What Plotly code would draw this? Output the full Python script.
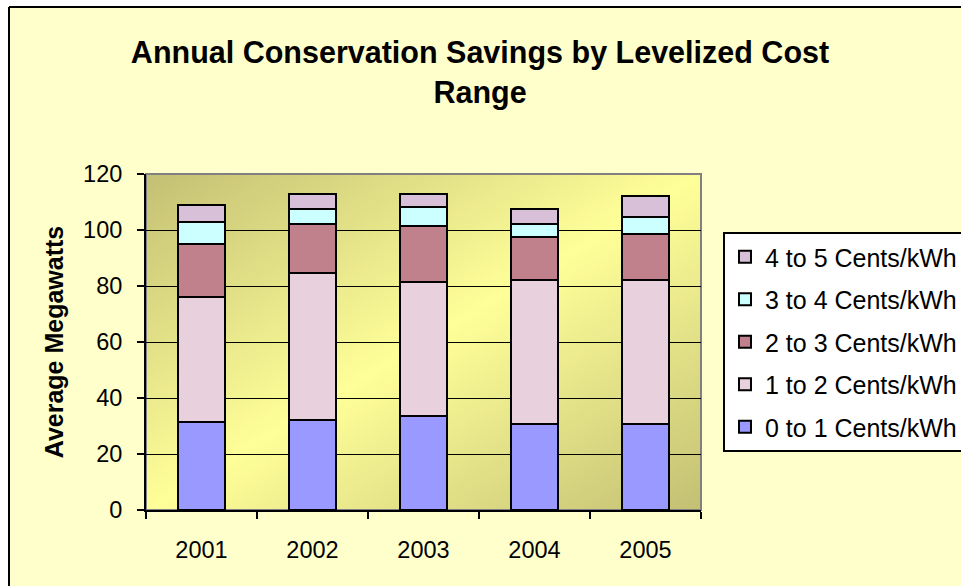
import base64, zlib, struct
import numpy as np
import plotly.graph_objects as go

years = ["2001", "2002", "2003", "2004", "2005"]
c0_1 = [31.6, 32.2, 33.7, 30.8, 30.8]
c1_2 = [44.3, 52.3, 47.8, 51.3, 51.3]
c2_3 = [19.2, 17.6, 20.0, 15.3, 16.6]
c3_4 = [7.7, 5.3, 6.6, 4.9, 5.8]
c4_5 = [6.0, 5.6, 4.9, 5.1, 7.8]
series_names = ["0 to 1 Cents/kWh", "1 to 2 Cents/kWh", "2 to 3 Cents/kWh",
                "3 to 4 Cents/kWh", "4 to 5 Cents/kWh"]
series_colors = ["#9999FF", "#E8D0DC", "#C0808C", "#CCFFFF", "#D8C0D8"]
series_values = [c0_1, c1_2, c2_3, c3_4, c4_5]

# figure geometry (pixels)
FW, FH = 961, 586
L, R, T, B = 146, 701, 174, 510


def xp(px):
    return (px - L) / (R - L)


def yp(py):
    return (B - py) / (B - T)


# diagonal gradient background for the plot area
def make_png(w, h):
    xs = np.linspace(0, 1, w)
    ys = np.linspace(0, 1, h)
    t = xs[None, :] + ys[:, None]
    d = np.clip(np.abs(t - 1.0), 0, 1)[:, :, None]
    bright = np.array([255, 255, 153], dtype=float)
    dark = np.array([196, 192, 116], dtype=float)
    img = (bright + (dark - bright) * d).round().astype(np.uint8)
    raw = b"".join(b"\x00" + img[r].tobytes() for r in range(h))

    def chunk(tag, data):
        return (struct.pack(">I", len(data)) + tag + data +
                struct.pack(">I", zlib.crc32(tag + data) & 0xffffffff))

    png = (b"\x89PNG\r\n\x1a\n" +
           chunk(b"IHDR", struct.pack(">IIBBBBB", w, h, 8, 2, 0, 0, 0)) +
           chunk(b"IDAT", zlib.compress(raw, 9)) +
           chunk(b"IEND", b""))
    return "data:image/png;base64," + base64.b64encode(png).decode()


fig = go.Figure()
n = len(series_names)
for i, (name, color, vals) in enumerate(zip(series_names, series_colors,
                                            series_values)):
    fig.add_trace(go.Bar(
        x=years, y=vals, name=name, legendgroup=name, legendrank=100 + n - i,
        marker=dict(color=color, line=dict(color="black", width=2)),
    ))

font_family = "Arial, Liberation Sans, sans-serif"

fig.update_layout(
    width=FW, height=FH,
    barmode="stack", bargap=0.585,
    paper_bgcolor="#FFFFCC",
    plot_bgcolor="rgba(0,0,0,0)",
    margin=dict(l=L, r=FW - R, t=T, b=FH - B, autoexpand=False),
    font=dict(family=font_family, color="black"),
    title=dict(
        text="Annual Conservation Savings by Levelized Cost<br>Range",
        font=dict(size=30.5, family=font_family, color="black", weight="bold"),
        x=480 / FW, xanchor="center", xref="container",
        y=1 - 63 / FH, yanchor="top",
    ),
    xaxis=dict(
        type="category", tickson="boundaries", ticks="outside", ticklen=7,
        tickwidth=2, tickcolor="black", showline=True, linecolor="black",
        linewidth=2, showgrid=False, tickfont=dict(size=23.5),
        ticklabelstandoff=18,
    ),
    yaxis=dict(
        range=[0, 120], dtick=20, ticks="outside", ticklen=7, tickwidth=2,
        tickcolor="black", showline=True, linecolor="black", linewidth=2,
        showgrid=True, gridcolor="black", gridwidth=1,
        tickfont=dict(size=23.5), ticklabelstandoff=10,
        title=dict(text="Average Megawatts", standoff=12,
                   font=dict(size=25, weight="bold")),
        zeroline=False,
    ),
    legend=dict(
        x=xp(723), y=yp(232), xanchor="left", yanchor="top",
        bgcolor="white", bordercolor="black", borderwidth=2,
        font=dict(size=25), traceorder="grouped",
        tracegroupgap=7,
    ),
    showlegend=True,
)

fig.add_layout_image(dict(
    source=make_png(320, 200), xref="paper", yref="paper",
    x=0, y=1, sizex=1, sizey=1, xanchor="left", yanchor="top",
    sizing="stretch", layer="below",
))

shapes = [
    # white margin outside the chart border
    dict(type="rect", xref="paper", yref="paper", x0=xp(-10), x1=xp(8),
         y0=yp(600), y1=yp(-10), fillcolor="white", line=dict(width=0),
         layer="below"),
    dict(type="rect", xref="paper", yref="paper", x0=xp(-10), x1=xp(980),
         y0=yp(6), y1=yp(-10), fillcolor="white", line=dict(width=0),
         layer="below"),
    # chart border
    dict(type="line", xref="paper", yref="paper", x0=xp(9), x1=xp(9),
         y0=yp(7), y1=yp(600), line=dict(color="black", width=2),
         layer="below"),
    dict(type="line", xref="paper", yref="paper", x0=xp(9), x1=xp(980),
         y0=yp(7), y1=yp(7), line=dict(color="black", width=2),
         layer="below"),
    # plot area border
    dict(type="rect", xref="paper", yref="paper", x0=0, x1=1, y0=0, y1=1,
         line=dict(color="#808080", width=2), layer="below"),
]
fig.update_layout(shapes=shapes)

fig.write_html("out.html")
